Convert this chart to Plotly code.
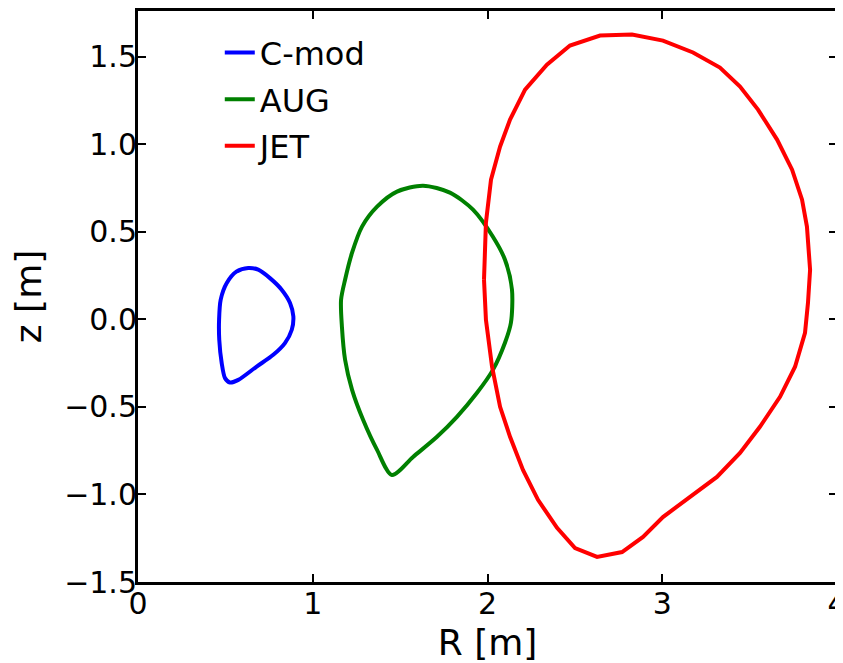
import plotly.graph_objects as go

# C-mod boundary (R, z) in metres
cmod_R = [0.631, 0.565, 0.508, 0.473, 0.464, 0.465, 0.479, 0.498, 0.526, 0.574,
          0.679, 0.774, 0.841, 0.880, 0.889, 0.870, 0.822, 0.755, 0.688, 0.631]
cmod_z = [0.293, 0.273, 0.207, 0.111, -0.003, -0.117, -0.250, -0.336, -0.361, -0.346,
          -0.270, -0.203, -0.136, -0.060, 0.016, 0.093, 0.169, 0.235, 0.283, 0.293]

# AUG boundary
aug_R = [1.453, 1.368, 1.288, 1.225, 1.185, 1.167, 1.162, 1.185, 1.225, 1.282,
         1.368, 1.482, 1.631, 1.785, 1.917, 2.031, 2.100, 2.140, 2.134, 2.100,
         2.031, 1.940, 1.825, 1.711, 1.574, 1.453]
aug_z = [-0.889, -0.746, -0.574, -0.403, -0.231, -0.043, 0.111, 0.226, 0.380, 0.529,
         0.643, 0.729, 0.763, 0.723, 0.626, 0.471, 0.340, 0.169, -0.020, -0.134,
         -0.289, -0.420, -0.557, -0.671, -0.786, -0.889]

# JET boundary
jet_R = [1.980, 1.991, 2.020, 2.072, 2.129, 2.215, 2.340, 2.472, 2.644, 2.827,
         3.004, 3.176, 3.330, 3.445, 3.548, 3.657, 3.743, 3.800, 3.828, 3.846,
         3.834, 3.817, 3.760, 3.674, 3.559, 3.445, 3.313, 3.159, 3.004, 2.890,
         2.770, 2.627, 2.501, 2.398, 2.289, 2.203, 2.129, 2.072, 2.026, 1.991, 1.980]
jet_z = [0.226, 0.551, 0.797, 0.986, 1.140, 1.311, 1.454, 1.563, 1.620, 1.626,
         1.591, 1.523, 1.437, 1.329, 1.197, 1.026, 0.854, 0.683, 0.529, 0.283,
         0.094, -0.077, -0.271, -0.443, -0.614, -0.763, -0.900, -1.014, -1.129, -1.243,
         -1.329, -1.357, -1.306, -1.191, -1.031, -0.860, -0.671, -0.500, -0.271, -0.003, 0.226]

x_ticks = [0, 1, 2, 3, 4]
y_ticks = [-1.5, -1.0, -0.5, 0.0, 0.5, 1.0, 1.5]

font_family = "DejaVu Sans"

fig = go.Figure()
fig.add_trace(go.Scatter(x=cmod_R, y=cmod_z, mode="lines", name="C-mod",
                         line=dict(color="#0000ff", width=4, shape="spline", smoothing=0.8),
                         legendgroup="a"))
fig.add_trace(go.Scatter(x=aug_R, y=aug_z, mode="lines", name="AUG",
                         line=dict(color="#008000", width=4, shape="spline", smoothing=0.8),
                         legendgroup="b"))
fig.add_trace(go.Scatter(x=jet_R, y=jet_z, mode="lines", name="JET",
                         line=dict(color="#ff0000", width=4),
                         legendgroup="c"))

axis_common = dict(
    showline=True, linecolor="black", linewidth=3, mirror="allticks",
    ticks="inside", ticklen=8, tickwidth=2, tickcolor="black",
    showgrid=False, zeroline=False, ticklabeloverflow="allow",
    tickfont=dict(family=font_family, size=30, color="black"),
)

fig.update_layout(
    width=835, height=655,
    margin=dict(l=130, r=6, t=3, b=81, autoexpand=False),
    paper_bgcolor="white", plot_bgcolor="white",
    font=dict(family=font_family, color="black"),
    xaxis=dict(range=[0, 4], tickvals=x_ticks, ticktext=[str(v) for v in x_ticks],
               ticklabelstandoff=-7,
               title=dict(text="R [m]", font=dict(family=font_family, size=36), standoff=14),
               automargin=False,
               **axis_common),
    yaxis=dict(range=[-1.5, 1.76], tickvals=y_ticks,
               ticktext=[("\u2212" if v < 0 else "") + f"{abs(v):.1f}" for v in y_ticks],
               ticklabelstandoff=-8,
               title=dict(text="z [m]", font=dict(family=font_family, size=36), standoff=20),
               automargin=False,
               **axis_common),
    legend=dict(x=0.117, y=0.975, xanchor="left", yanchor="top",
                font=dict(family=font_family, size=32, color="black"),
                bgcolor="rgba(0,0,0,0)", borderwidth=0, tracegroupgap=2),
    showlegend=True,
)

fig.write_html("out.html")
